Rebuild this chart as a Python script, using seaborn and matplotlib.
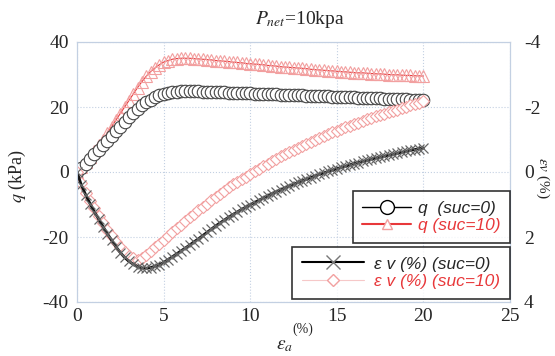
import numpy as np
import pandas as pd
import matplotlib
matplotlib.use("Agg")
import matplotlib.pyplot as plt
from matplotlib.lines import Line2D
import seaborn as sns

# ---------------- data ----------------
strain_a = [i * 0.25 for i in range(81)]  # axial strain, %

q_suc0 = [0.0, 1.2, 2.5, 4.0, 5.5, 6.9, 8.3, 9.6, 11.0, 12.5, 14.0, 15.5, 17.0, 18.3, 19.4, 20.5,
          21.5, 22.3, 23.0, 23.6, 24.0, 24.3, 24.6, 24.7, 24.8, 24.8, 24.8, 24.8, 24.8, 24.7, 24.7, 24.6,
          24.6, 24.5, 24.5, 24.4, 24.4, 24.3, 24.3, 24.2, 24.2, 24.1, 24.1, 24.0, 24.0, 23.9, 23.9, 23.8,
          23.8, 23.7, 23.7, 23.6, 23.6, 23.5, 23.5, 23.4, 23.4, 23.3, 23.3, 23.2, 23.2, 23.1, 23.1, 23.0,
          23.0, 22.9, 22.9, 22.8, 22.8, 22.7, 22.7, 22.6, 22.6, 22.5, 22.5, 22.4, 22.4, 22.3, 22.3, 22.2,
          22.2]

q_suc10 = [0.0, 1.5, 3.0, 4.7, 6.5, 8.2, 10.0, 12.0, 14.0, 16.0, 18.0, 20.0, 22.0, 24.0, 26.0, 27.8,
           29.5, 30.9, 32.0, 33.0, 33.8, 34.3, 34.7, 34.9, 35.0, 35.0, 35.0, 34.9, 34.8, 34.7, 34.6, 34.5,
           34.3, 34.2, 34.1, 34.0, 33.8, 33.7, 33.6, 33.4, 33.3, 33.2, 33.1, 33.0, 32.8, 32.7, 32.6, 32.4,
           32.3, 32.2, 32.1, 32.0, 31.9, 31.8, 31.6, 31.5, 31.4, 31.3, 31.2, 31.1, 31.0, 30.9, 30.8, 30.7,
           30.6, 30.5, 30.5, 30.4, 30.3, 30.2, 30.2, 30.1, 30.0, 29.9, 29.9, 29.8, 29.7, 29.7, 29.6, 29.6,
           29.5]

ev_suc0 = [0.00, 0.40, 0.70, 0.97, 1.22, 1.45, 1.68, 1.90, 2.10, 2.30, 2.48, 2.63, 2.75, 2.84, 2.91, 2.95,
           2.96, 2.94, 2.90, 2.85, 2.78, 2.70, 2.61, 2.52, 2.43, 2.34, 2.25, 2.15, 2.06, 1.96, 1.86, 1.76,
           1.66, 1.57, 1.48, 1.39, 1.31, 1.23, 1.15, 1.08, 1.01, 0.94, 0.87, 0.80, 0.74, 0.67, 0.61, 0.55,
           0.49, 0.43, 0.38, 0.32, 0.27, 0.22, 0.17, 0.12, 0.07, 0.03, -0.02, -0.06, -0.10, -0.14, -0.18, -0.22,
           -0.26, -0.29, -0.33, -0.36, -0.40, -0.43, -0.46, -0.49, -0.52, -0.55, -0.58, -0.61, -0.64, -0.67, -0.69, -0.72,
           -0.74]

ev_suc10 = [0.00, 0.35, 0.65, 0.90, 1.12, 1.35, 1.57, 1.78, 1.97, 2.15, 2.32, 2.47, 2.58, 2.66, 2.70, 2.66,
            2.55, 2.44, 2.32, 2.20, 2.08, 1.96, 1.85, 1.73, 1.62, 1.50, 1.39, 1.28, 1.17, 1.07, 0.97, 0.87,
            0.77, 0.67, 0.57, 0.47, 0.38, 0.30, 0.22, 0.14, 0.06, -0.02, -0.10, -0.18, -0.26, -0.34, -0.41, -0.48,
            -0.55, -0.62, -0.68, -0.75, -0.81, -0.87, -0.93, -0.99, -1.05, -1.11, -1.17, -1.22, -1.27, -1.32, -1.37, -1.42,
            -1.47, -1.52, -1.57, -1.62, -1.66, -1.71, -1.75, -1.80, -1.84, -1.88, -1.92, -1.97, -2.01, -2.05, -2.09, -2.13,
            -2.17]

x_ticks = [0, 5, 10, 15, 20, 25]
q_ticks = [-40, -20, 0, 20, 40]
ev_ticks = [-4, -2, 0, 2, 4]

title_text = r"$P_{net}$=10kpa"
legend_q = ["q  (suc=0)", "q (suc=10)"]
legend_ev = ["ε v (%) (suc=0)", "ε v (%) (suc=10)"]

# ---------------- style ----------------
sns.set_style("white")
plt.rcParams["font.family"] = ["Liberation Serif", "DejaVu Serif"]
plt.rcParams["mathtext.fontset"] = "stix"

df = pd.DataFrame({"ea": strain_a, "q0": q_suc0, "q10": q_suc10,
                   "ev0": ev_suc0, "ev10": ev_suc10})

fig = plt.figure(figsize=(5.55, 3.56), dpi=100)
ax = fig.add_axes([77 / 555, 1 - 302 / 356, 433 / 555, 260 / 356])
ax2 = ax.twinx()

grid_col = "#c3d0e2"
red_light = "#f2a0a0"
red = "#e8383a"

# q curves
sns.lineplot(data=df, x="ea", y="q10", ax=ax, sort=False, errorbar=None,
             color=red, linewidth=0.8, marker="^", markersize=9,
             markerfacecolor="none", markeredgecolor=red_light, markeredgewidth=0.8)
sns.lineplot(data=df, x="ea", y="q0", ax=ax, sort=False, errorbar=None,
             color="#555555", linewidth=0.8, marker="o", markersize=9,
             markerfacecolor="white", markeredgecolor="#444444", markeredgewidth=0.8)

# volumetric strain curves
sns.lineplot(data=df, x="ea", y="ev10", ax=ax2, sort=False, errorbar=None,
             color="#f6c8c8", linewidth=0.6, marker="D", markersize=6.5,
             markerfacecolor="white", markeredgecolor=red_light, markeredgewidth=0.8)
sns.lineplot(data=df, x="ea", y="ev0", ax=ax2, sort=False, errorbar=None,
             color="#111111", linewidth=2.0, marker="x", markersize=7,
             markeredgecolor="#666666", markeredgewidth=0.9)

ax.set_xlim(0, 25)
ax.set_ylim(-40, 40)
ax2.set_ylim(4, -4)
ax.set_xticks(x_ticks)
ax.set_yticks(q_ticks)
ax2.set_yticks(ev_ticks)
ax.set_xticklabels([str(t) for t in x_ticks])
ax.set_yticklabels([str(t) for t in q_ticks])
ax2.set_yticklabels([str(t) for t in ev_ticks])

ax.grid(True, color=grid_col, linestyle=":", linewidth=0.8)
ax2.grid(False)
for a in (ax, ax2):
    for s in a.spines.values():
        s.set_color(grid_col)
        s.set_linewidth(0.8)
    a.tick_params(length=0, labelsize=14)
ax.tick_params(axis="y", pad=6)
ax.tick_params(axis="x", pad=4)
ax2.tick_params(axis="y", pad=10)

ax.set_xlabel("")
ax.set_ylabel("")
ax2.set_ylabel("")

fig.text(0.54, 0.945, title_text, ha="center", va="center", fontsize=14)
fig.text(0.032, 0.505, r"$q$ (kPa)", rotation=90, ha="center", va="center", fontsize=13)
fig.text(0.512, 0.03, r"$\varepsilon_a$", ha="center", va="center", fontsize=14)
fig.text(0.545, 0.075, "(%)", ha="center", va="center", fontsize=10)
fig.text(0.978, 0.50, r"$\varepsilon v$ (%)", rotation=270, ha="center", va="center", fontsize=11)

# legends
lfont = {"family": ["Liberation Sans", "DejaVu Sans"], "style": "italic", "size": 12.5}
h_q = [Line2D([], [], color="black", lw=1.0, marker="o", markersize=10,
              markerfacecolor="white", markeredgecolor="black"),
       Line2D([], [], color=red, lw=1.5, marker="^", markersize=7,
              markerfacecolor="white", markeredgecolor=red_light)]
h_ev = [Line2D([], [], color="black", lw=1.5, marker="x", markersize=10,
               markeredgecolor="#777777"),
        Line2D([], [], color="#f6c8c8", lw=0.8, marker="D", markersize=6,
               markerfacecolor="white", markeredgecolor=red_light)]

leg1 = ax2.legend(h_q, legend_q, loc="lower right", bbox_to_anchor=(1.0, 0.227),
                  prop=lfont, frameon=True, fancybox=False, borderaxespad=0,
                  handlelength=2.8, handletextpad=0.4, borderpad=0.55, labelspacing=0.15)
leg1.get_frame().set_edgecolor("black")
leg1.get_frame().set_linewidth(1.2)
leg1.get_texts()[1].set_color(red)
ax2.add_artist(leg1)

leg2 = ax2.legend(h_ev, legend_ev, loc="lower right", bbox_to_anchor=(1.0, 0.012),
                  prop=lfont, frameon=True, fancybox=False, borderaxespad=0,
                  handlelength=3.6, handletextpad=0.6, borderpad=0.55, labelspacing=0.15)
leg2.get_frame().set_edgecolor("black")
leg2.get_frame().set_linewidth(1.2)
leg2.get_texts()[1].set_color(red)

fig.savefig("out.png", dpi=100)
